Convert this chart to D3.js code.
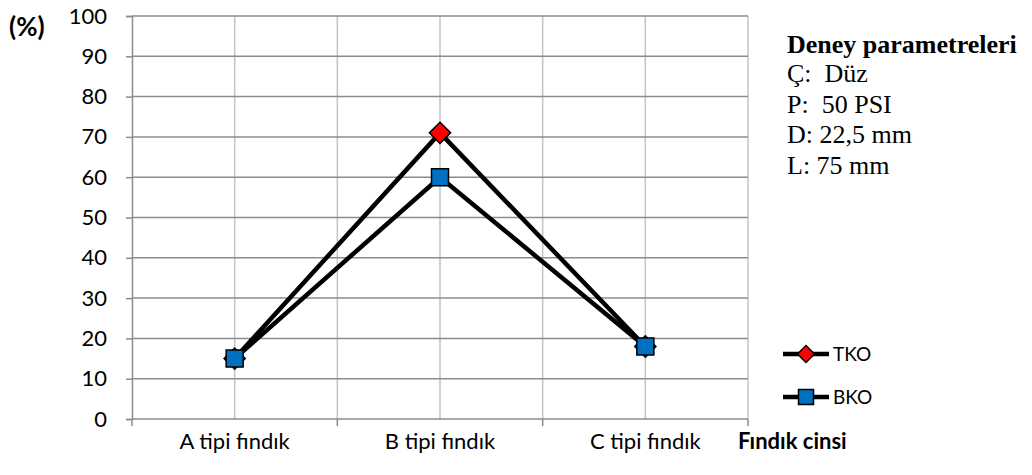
<!DOCTYPE html>
<html>
<head>
<meta charset="utf-8">
<script src="https://cdn.jsdelivr.net/npm/d3@7"></script>
<style>
  body { margin: 0; background: #fff; }
  #graf { width: 1032px; height: 475px; }
  text { font-family: Lato, "Liberation Sans", sans-serif; }
</style>
</head>
<body>
<div id="graf"></div>
<script>
// Datos
categorias = ['A tipi fındık', 'B tipi fındık', 'C tipi fındık']
tko = [15, 71, 18]
bko = [15, 60, 18]
yTicks = [0, 10, 20, 30, 40, 50, 60, 70, 80, 90, 100]
parametros = ['Ç:  Düz', 'P:  50 PSI', 'D: 22,5 mm', 'L: 75 mm']

series = [
  {nombre: 'TKO', valores: tko, rombo: true, color: '#ff0000'},
  {nombre: 'BKO', valores: bko, rombo: false, color: '#0070c0'}
]

ancho_total = 1032
alto_total = 475
margins = {top: 16, left: 132, right: 284, bottom: 56}
ancho = ancho_total - margins.left - margins.right
alto = alto_total - margins.top - margins.bottom

svg = d3.select('#graf').append('svg')
        .attr('width', ancho_total)
        .attr('height', alto_total)

g = svg.append('g')
       .attr('transform', `translate(${margins.left}, ${margins.top})`)

// Escaladores
x = d3.scaleBand()
      .domain(categorias)
      .range([0, ancho])
      .padding(0)
y = d3.scaleLinear()
      .domain([0, 100])
      .range([alto, 0])

// Rejilla vertical (bordes y centros de categoria)
vx = []
categorias.forEach(c => { vx.push(x(c)); vx.push(x(c) + x.bandwidth() / 2) })
vx.push(ancho)
g.selectAll('.vgrid').data(vx.slice(1)).enter()
 .append('line')
 .attr('x1', d => d).attr('x2', d => d)
 .attr('y1', 0).attr('y2', alto)
 .attr('stroke', '#c4c4c4').attr('stroke-width', 1.5)

// Rejilla horizontal
g.selectAll('.hgrid').data(yTicks.slice(1)).enter()
 .append('line')
 .attr('x1', 0).attr('x2', ancho)
 .attr('y1', d => y(d)).attr('y2', d => y(d))
 .attr('stroke', '#8c8c8c').attr('stroke-width', 1.5)

// Eje Y
yAx = g.append('g')
       .call(d3.axisLeft(y).tickValues(yTicks).tickSize(6).tickPadding(19))
yAx.select('.domain').attr('stroke', '#8c8c8c').attr('stroke-width', 1.5)
yAx.selectAll('.tick line').attr('stroke', '#8c8c8c').attr('stroke-width', 1.5)
yAx.selectAll('text').attr('font-size', 22).attr('fill', '#000')
   .style('font-family', 'Lato, sans-serif')

// Eje X
xAx = g.append('g')
       .attr('transform', `translate(0, ${alto})`)
xAx.append('line')
   .attr('x1', 0).attr('x2', ancho)
   .attr('stroke', '#8c8c8c').attr('stroke-width', 1.5)
bordes = categorias.map(c => x(c)).concat([ancho])
xAx.selectAll('.tk').data(bordes).enter()
   .append('line')
   .attr('x1', d => d).attr('x2', d => d)
   .attr('y1', 0).attr('y2', 7)
   .attr('stroke', '#8c8c8c').attr('stroke-width', 1.5)
xAx.selectAll('.lbl').data(categorias).enter()
   .append('text')
   .attr('x', d => x(d) + x.bandwidth() / 2)
   .attr('y', 30)
   .attr('text-anchor', 'middle')
   .attr('font-size', 22)
   .text(d => d)

// Lineas
linea = d3.line()
          .x((d, i) => x(categorias[i]) + x.bandwidth() / 2)
          .y(d => y(d))

series.forEach(s => {
  g.append('path')
   .datum(s.valores)
   .attr('d', linea)
   .attr('fill', 'none')
   .attr('stroke', '#000')
   .attr('stroke-width', 4.5)
   .attr('stroke-linejoin', 'miter')
})

// el rombo es un cuadrado girado 45 grados
simbolo = (rombo, lado) => d3.symbol().type(d3.symbolSquare).size(lado * lado)()

series.forEach(s => {
  g.selectAll('.m' + s.nombre).data(s.valores).enter()
   .append('path')
   .attr('d', simbolo(s.rombo, s.rombo ? 15 : 17))
   .attr('transform', (d, i) => `translate(${x(categorias[i]) + x.bandwidth() / 2}, ${y(d)}) rotate(${s.rombo ? 45 : 0})`)
   .attr('fill', s.color)
   .attr('stroke', '#000')
   .attr('stroke-width', 1.5)
})

// Leyenda
leyenda = svg.selectAll('.ley').data(series).enter()
             .append('g')
             .attr('transform', (d, i) => `translate(783, ${354 + i * 43})`)
leyenda.append('line')
       .attr('x1', 0).attr('x2', 46)
       .attr('stroke', '#000').attr('stroke-width', 4.5)
leyenda.append('path')
       .attr('d', d => simbolo(d.rombo, d.rombo ? 12 : 15))
       .attr('transform', d => `translate(23, 0) rotate(${d.rombo ? 45 : 0})`)
       .attr('fill', d => d.color)
       .attr('stroke', '#000').attr('stroke-width', 1.5)
leyenda.append('text')
       .attr('x', 50).attr('y', 7)
       .attr('font-size', 19)
       .text(d => d.nombre)

// Titulos de ejes
svg.append('text')
   .attr('x', 9).attr('y', 36)
   .attr('font-size', 26).attr('font-weight', 'bold')
   .text('(%)')
svg.append('text')
   .attr('x', 738).attr('y', 449)
   .attr('font-size', 22).attr('font-weight', 'bold')
   .text('Fındık cinsi')

// Parametros del ensayo
svg.append('text')
   .attr('x', 787).attr('y', 53)
   .attr('font-size', 26).attr('font-weight', 'bold')
   .style('font-family', '"Liberation Serif", serif')
   .text('Deney parametreleri')
svg.selectAll('.par').data(parametros).enter()
   .append('text')
   .attr('x', 787)
   .attr('y', (d, i) => 82 + i * 30.5)
   .attr('font-size', 26)
   .style('font-family', '"Liberation Serif", serif')
   .style('white-space', 'pre')
   .text(d => d)
</script>
</body>
</html>
